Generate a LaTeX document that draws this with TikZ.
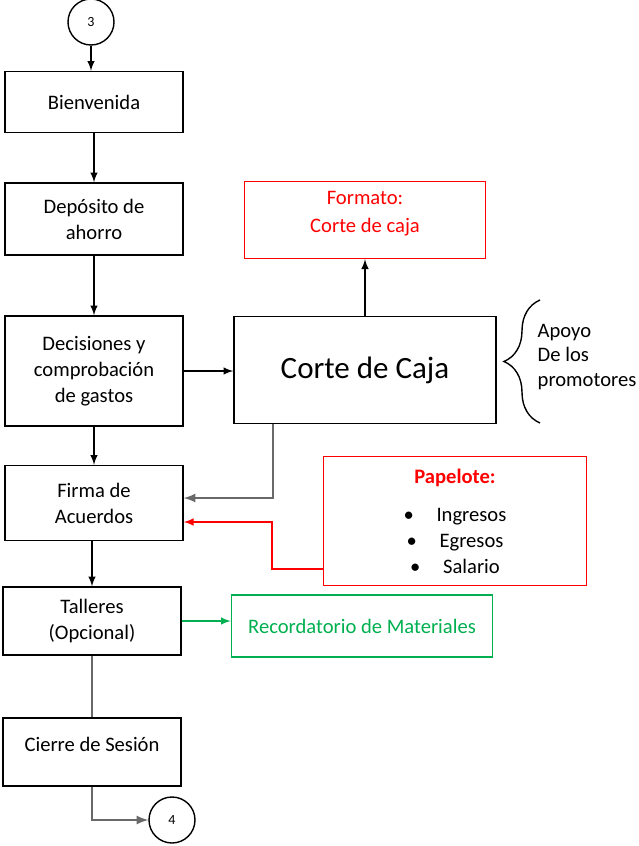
\documentclass[tikz,border=0pt]{standalone}
\usepackage{fontspec}
\setmainfont{Carlito}
\usetikzlibrary{decorations.pathreplacing}
\definecolor{rojo}{RGB}{255,0,0}
\definecolor{verde}{RGB}{0,176,80}
\definecolor{gris}{RGB}{105,105,105}

\begin{document}
\begin{tikzpicture}[>=latex, x=0.5pt, y=-0.5pt, line width=0.7pt,
    caja/.style={draw, align=center, minimum width=89pt, inner sep=2pt, font=\fontsize{10.3}{13}\selectfont},
    conector/.style={draw, circle, minimum size=23pt, inner sep=0pt, font=\fontsize{7}{8}\selectfont},
    gline/.style={draw=gris, line width=1pt}]
    \useasboundingbox (0,0) rectangle (638,846);
    % columna principal
    \node[conector] (c3) at (91,22) {3};
    \node[caja, minimum height=30.5pt] (bien) at (94,102) {Bienvenida};
    \node[caja, minimum height=36pt] (depo) at (94,219) {Depósito de\\ahorro};
    \node[caja, minimum height=55pt] (deci) at (94,371) {Decisiones y\\comprobación\\de gastos};
    \node[caja, minimum height=37.5pt] (firma) at (94,503) {Firma de\\Acuerdos};
    \node[caja, minimum height=34pt] (tall) at (92,621) {Talleres\\(Opcional)};
    \node[caja, minimum height=34pt, text depth=8pt] (cier) at (92,752) {Cierre de Sesión};
    \node[conector] (c4) at (172,820) {4};
    % lado derecho
    \node[caja, minimum width=131pt, minimum height=53.5pt, font=\fontsize{15.5}{18}\selectfont] (corte) at (365,370) {Corte de Caja};
    \node[caja, draw=rojo, text=rojo, minimum width=120.5pt, minimum height=38.5pt, text depth=8pt] (form) at (365,220) {Formato:\\[1pt]Corte de caja};
    \node[caja, draw=rojo, minimum width=131.5pt, minimum height=64.5pt] (pape) at (455,521)
        {\textcolor{rojo}{\bfseries Papelote:}\\[6pt]\textbullet\hspace{1.1em}Ingresos\\\textbullet\hspace{1.1em}Egresos\\\textbullet\hspace{1.1em}Salario};
    \node[caja, draw=verde, text=verde, minimum width=130.5pt, minimum height=31pt] (verde) at (362,626) {Recordatorio de Materiales};
    \draw[decorate, decoration={brace, amplitude=18pt}] (540,423) -- (540,300);
    \node[anchor=west, align=left, inner sep=0pt, font=\fontsize{10.3}{12.3}\selectfont] (apoyo) at (537,357) {Apoyo\\De los\\promotores};
    % conexiones
    \coordinate (k1) at (273,498);
    \coordinate (k2) at (272,569);
    \coordinate (k3) at (272,522);
    \coordinate (k4) at (92,820);
    \draw[->] (c3) -- (c3 |- bien.north);
    \draw[->] (bien) -- (depo);
    \draw[->] (depo) -- (deci);
    \draw[->] (deci) -- (firma);
    \draw[->] (deci.east) -- (corte.west |- deci.east);
    \draw[->] (corte) -- (form);
    \draw[->, gline] (corte.south -| k1) -- (k1) -- (k1 -| firma.east);
    \draw[->, rojo] (pape.west |- k2) -- (k2) -- (k3) -- (k3 -| firma.east);
    \draw[->] (firma.south -| tall) -- (tall);
    \draw[gline] (tall) -- (cier);
    \draw[->, verde] (tall.east) -- (tall.east -| verde.west);
    \draw[->, gline] (cier.south) -- (k4) -- (c4);
\end{tikzpicture}
\end{document}
